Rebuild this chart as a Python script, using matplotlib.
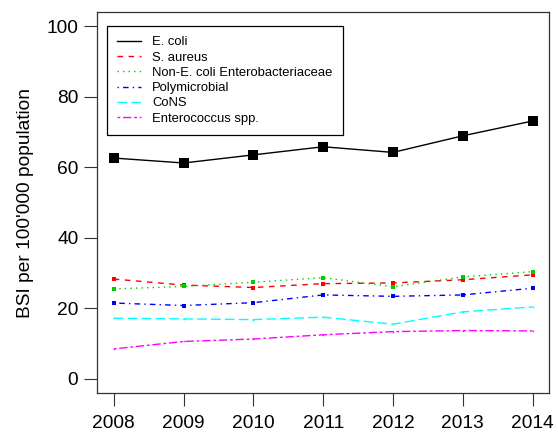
import matplotlib
matplotlib.use("Agg")
import matplotlib.pyplot as plt

plt.rcParams['font.family'] = ['Liberation Sans', 'DejaVu Sans']

years = [2008, 2009, 2010, 2011, 2012, 2013, 2014]
labels = ["E. coli", "S. aureus", "Non-E. coli Enterobacteriaceae",
          "Polymicrobial", "CoNS", "Enterococcus spp."]
ecoli = [62.6, 61.2, 63.5, 65.8, 64.2, 68.9, 73.1]
saureus = [28.3, 26.6, 25.9, 27.0, 27.2, 28.1, 29.5]
non_ecoli = [25.5, 26.2, 27.4, 28.7, 26.1, 28.9, 30.4]
polymicrobial = [21.5, 20.8, 21.6, 23.8, 23.4, 23.8, 25.7]
cons = [17.2, 17.0, 16.8, 17.5, 15.5, 19.0, 20.4]
enterococcus = [8.5, 10.6, 11.3, 12.5, 13.4, 13.7, 13.6]
yticks = [0, 20, 40, 60, 80, 100]

series = [ecoli, saureus, non_ecoli, polymicrobial, cons, enterococcus]
colors = ["black", "#FF0000", "#00CD00", "#0000FF", "#00FFFF", "#FF00FF"]
dashes = [None, (4, 4), (1, 3), (1, 3, 4, 3), (7, 3), (2, 2, 6, 2)]
msizes = [6.5, 3.2, 3.2, 2.6, 1.2, 1.0]

W, H = 558, 433
fig = plt.figure(figsize=(W / 100, H / 100), dpi=100)
ax = fig.add_axes([97 / W, 1 - 393 / H, (549.3 - 97) / W, (393 - 12) / H])

for vals, lab, c, d, ms in zip(series, labels, colors, dashes, msizes):
    line, = ax.plot(years, vals, color=c, lw=1.0, marker='s', ms=ms,
                    markeredgewidth=0, label=lab)
    if d is not None:
        line.set_dashes(d)

ax.set_xlim(2008 - 0.24, 2014 + 0.24)
ax.set_ylim(-4, 104)
ax.set_xticks(years)
ax.set_xticklabels([str(y) for y in years])
ax.set_yticks(yticks)
ax.tick_params(axis='both', direction='out', length=9.5, width=0.8,
               labelsize=13.8, color='#333333')
ax.tick_params(axis='y', pad=4)
ax.tick_params(axis='x', pad=6)
for s in ax.spines.values():
    s.set_linewidth(0.9)
    s.set_color('#333333')
ax.set_ylabel("BSI per 100'000 population", fontsize=13.8, labelpad=9)

leg = ax.legend(loc='upper left', bbox_to_anchor=(107 / W, 1 - 25.7 / H),
                bbox_transform=fig.transFigure, borderaxespad=0,
                fontsize=9.4, handlelength=1.8, handletextpad=0.85,
                labelspacing=0.24, borderpad=0.8, fancybox=False,
                framealpha=1, edgecolor='black', markerscale=0.0001)
leg.get_frame().set_linewidth(0.9)
for h in leg.get_lines():
    h.set_marker('')

fig.savefig("out.png", dpi=100)
